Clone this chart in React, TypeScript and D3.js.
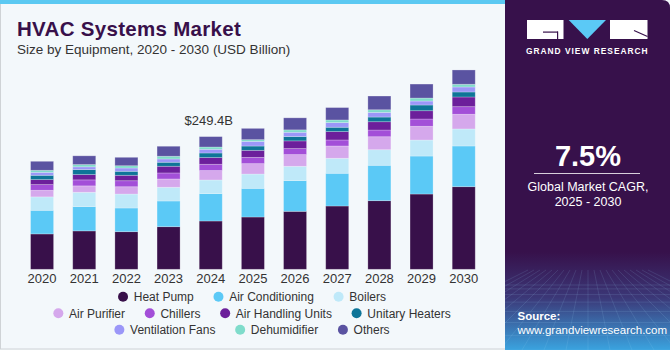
import React from 'react';
import * as d3 from 'd3';

// values in USD billion
const years = ['2020', '2021', '2022', '2023', '2024', '2025', '2026', '2027', '2028', '2029', '2030'];
const heatPump = [66.5, 72.2, 70.7, 80.1, 90.8, 98.3, 109.0, 119.0, 129.0, 141.5, 155.3];
const airConditioning = [44.4, 45.7, 44.5, 48.3, 51.5, 53.9, 57.7, 61.5, 66.5, 71.4, 76.5];
const boilers = [25.2, 26.9, 26.3, 25.8, 25.6, 26.9, 26.9, 28.2, 29.3, 30.1, 32.0];
const airPurifier = [12.4, 12.0, 13.7, 15.6, 17.7, 19.5, 22.0, 23.1, 24.4, 25.8, 27.6];
const chillers = [10.7, 11.3, 11.3, 11.3, 11.8, 11.8, 11.3, 11.3, 12.6, 13.7, 14.3];
const airHandlingUnits = [9.4, 10.0, 10.2, 12.6, 12.6, 13.2, 14.5, 15.8, 15.6, 15.6, 18.2];
const unitaryHeaters = [8.1, 9.4, 7.5, 7.5, 8.6, 8.1, 8.1, 8.1, 8.8, 10.7, 9.4];
const ventilationFans = [5.6, 5.1, 6.2, 6.2, 7.0, 8.8, 8.1, 8.8, 8.8, 7.5, 9.4];
const dehumidifier = [3.8, 4.3, 4.3, 5.1, 4.3, 3.2, 4.5, 4.9, 4.9, 5.6, 5.1];
const others = [16.9, 16.4, 15.8, 18.8, 19.5, 21.2, 22.6, 23.3, 25.8, 26.3, 26.9];

const seriesNames = ['Heat Pump', 'Air Conditioning', 'Boilers', 'Air Purifier', 'Chillers',
  'Air Handling Units', 'Unitary Heaters', 'Ventilation Fans', 'Dehumidifier', 'Others'];
const seriesValues = [heatPump, airConditioning, boilers, airPurifier, chillers,
  airHandlingUnits, unitaryHeaters, ventilationFans, dehumidifier, others];
const seriesColors = ['#38104a', '#5bc9f6', '#bfe9f9', '#d5a8ec', '#a34fd8',
  '#6c1f9b', '#0e7598', '#9b97f8', '#7fdccb', '#5a53a1'];

const legendRows = [[0, 1, 2], [3, 4, 5, 6], [7, 8, 9]];

const calloutYear = '2024';
const calloutLabel = '$249.4B';
const cagr = '7.5%';

const width = 670;
const height = 350;
const FONT = "'Liberation Sans', Arial, Helvetica, sans-serif";

let ctx: CanvasRenderingContext2D | null = null;
const textWidth = (t: string, size: number, weight = 'normal') => {
  if (!ctx) ctx = document.createElement('canvas').getContext('2d');
  if (!ctx) return t.length * size * 0.5;
  ctx.font = `${weight} ${size}px ${FONT}`;
  return ctx.measureText(t).width;
};

const App = () => {
  const table = years.map((yr, i) => {
    const row: any = {year: yr};
    seriesNames.forEach((n, j) => { row[n] = seriesValues[j][i]; });
    return row;
  });
  const stacked = d3.stack<any>().keys(seriesNames)(table);

  const x = d3.scaleBand().domain(years).range([21, 484.8]).paddingInner(0.454).paddingOuter(0.227);
  const y = d3.scaleLinear().domain([0, 250]).range([269.3, 136.3]);

  const calloutIdx = years.indexOf(calloutYear);
  const calloutTop = stacked[stacked.length - 1][calloutIdx][1];

  // legend layout, each row centred on the plot
  const legendCenter = 252;
  const legendFont = 12;
  const dotR = 5;
  const textGap = 10.7;
  const itemGap = 19.7;
  const legendY = [301, 317.5, 334];

  const panelX = 505;

  return (
    <svg width={width} height={height} style={{position: 'absolute', left: 0, top: 0, display: 'block'}}
         fontFamily={FONT}>
      <defs>
        <linearGradient id="panelFade" x1="0" y1="0" x2="0" y2="1">
          <stop offset="0" stopColor="#37114b"/>
          <stop offset="0.72" stopColor="#37114b"/>
          <stop offset="0.85" stopColor="#3b3777"/>
          <stop offset="1" stopColor="#3aa3df"/>
        </linearGradient>
        <clipPath id="panelClip">
          <path d={`M${panelX},0 H${width - 8} Q${width},0 ${width},8 V${height} H${panelX} Z`}/>
        </clipPath>
      </defs>

      {/* chart background */}
      <rect x={0} y={0} width={width} height={height} fill="#f3f8fb"/>
      <rect x={0.5} y={0.5} width={panelX} height={height - 1.5} fill="none" stroke="#cfd3d6"/>
      <rect x={0} y={0} width={panelX + 4} height={4} fill="#5bc9f2"/>

      <text x={17} y={35.5} fontSize={20.5} fontWeight="bold" fill="#38104a" letterSpacing={0.3}>
        HVAC Systems Market
      </text>
      <text x={17} y={53.5} fontSize={13.5} fill="#333">
        Size by Equipment, 2020 - 2030 (USD Billion)
      </text>

      {/* bars */}
      {stacked.map((s, si) => (
        <g key={s.key} fill={seriesColors[si]}>
          {s.map((d, i) => (
            <rect key={years[i]} x={x(years[i])} y={y(d[1])} width={x.bandwidth()}
                  height={Math.max(0, y(d[0]) - y(d[1]))}
                  stroke="#ffffff" strokeOpacity={0.3} strokeWidth={0.8}/>
          ))}
        </g>
      ))}

      {years.map(yr => (
        <text key={yr} x={(x(yr) as number) + x.bandwidth() / 2} y={283} textAnchor="middle"
              fontSize={13} fill="#333">{yr}</text>
      ))}

      <text x={(x(calloutYear) as number) + x.bandwidth() / 2 - 2} y={y(calloutTop) - 12}
            textAnchor="middle" fontSize={13} fill="#333">{calloutLabel}</text>

      {/* legend */}
      {legendRows.map((row, ri) => {
        const widths = row.map(k => dotR + textGap + textWidth(seriesNames[k], legendFont));
        const total = d3.sum(widths) + itemGap * (row.length - 1);
        let cursor = legendCenter - total / 2;
        return (
          <g key={ri}>
            {row.map((k, j) => {
              const x0 = cursor;
              cursor += widths[j] + itemGap;
              return (
                <g key={k}>
                  <circle cx={x0 + dotR} cy={legendY[ri] - 4.3} r={dotR} fill={seriesColors[k]}/>
                  <text x={x0 + dotR + textGap} y={legendY[ri]} fontSize={legendFont} fill="#333">
                    {seriesNames[k]}
                  </text>
                </g>
              );
            })}
          </g>
        );
      })}

      {/* right panel */}
      <g clipPath="url(#panelClip)">
        <rect x={panelX} y={0} width={width - panelX} height={height} fill="url(#panelFade)"/>
        <g stroke="#9fd8f5" strokeOpacity={0.22} strokeWidth={0.6}>
          {d3.range(0, 9).map(i => (
            <line key={'h' + i} x1={panelX} x2={width} y1={285 + i * i * 0.9 + i * 3} y2={285 + i * i * 0.9 + i * 3}/>
          ))}
          {d3.range(-10, 11).map(i => (
            <line key={'v' + i} x1={588 + i * 6} y1={270} x2={588 + i * 22} y2={height}/>
          ))}
        </g>
      </g>

      {/* logo */}
      <rect x={527} y={20} width={36.5} height={19} fill="#fff"/>
      <rect x={543} y={31.5} width={15} height={1.2} fill="#37114b"/>
      <rect x={557} y={31.5} width={1.2} height={7.5} fill="#37114b"/>
      <path d="M568.7,20 L606,20 L587.3,39 Z" fill="#5bc9f6"/>
      <rect x={610} y={20} width={37.5} height={19} fill="#fff"/>
      <path d="M634,30.5 L647.5,36.5" stroke="#37114b" strokeWidth={1.2}/>
      <text x={587.3} y={54} textAnchor="middle" fontSize={8.4} fontWeight="bold" fill="#fff"
            letterSpacing={1}>GRAND VIEW RESEARCH</text>

      <text x={588} y={165.5} textAnchor="middle" fontSize={29} fontWeight="bold" fill="#fff">{cagr}</text>
      <line x1={534} x2={640} y1={173.5} y2={173.5} stroke="#fff" strokeOpacity={0.8} strokeWidth={1}/>
      <text x={588} y={191} textAnchor="middle" fontSize={12.5} fill="#fff">Global Market CAGR,</text>
      <text x={588} y={206} textAnchor="middle" fontSize={12.5} fill="#fff">2025 - 2030</text>

      <text x={517.5} y={320} fontSize={11.5} fontWeight="bold" fill="#fff">Source:</text>
      <text x={517.5} y={333.5} fontSize={11.5} fill="#fff">www.grandviewresearch.com</text>
    </svg>
  );
};

export default App;
